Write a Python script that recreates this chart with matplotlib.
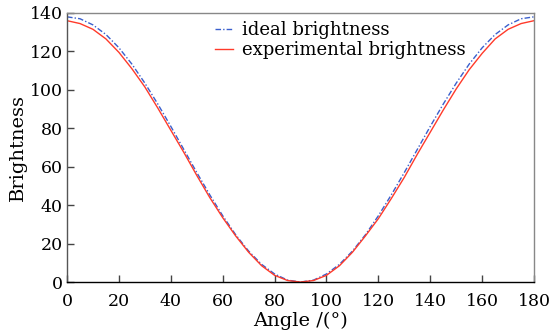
import numpy as np
from matplotlib import pyplot as plt

# angles in degrees
angle_ideal = np.arange(0, 181, 5)
ideal = [138.0, 137.0, 133.8, 128.8, 121.9, 113.4, 103.5, 92.6, 81.0, 69.0,
         57.0, 45.4, 34.5, 24.6, 16.1, 9.2, 4.2, 1.0, 0.0,
         1.0, 4.2, 9.2, 16.1, 24.6, 34.5, 45.4, 57.0, 69.0, 81.0,
         92.6, 103.5, 113.4, 121.9, 128.8, 133.8, 137.0, 138.0]

angle_exp = np.arange(0, 181, 5)
experimental = [136.0, 134.5, 131.5, 126.5, 119.5, 111.0, 101.5, 90.5, 79.0, 67.5,
                55.5, 44.0, 33.5, 24.0, 15.5, 8.5, 3.5, 0.8, 0.0,
                0.8, 3.5, 8.5, 15.5, 24.0, 33.0, 43.5, 54.5, 66.5, 78.0,
                89.5, 100.5, 110.5, 119.0, 126.5, 131.5, 134.5, 136.0]

plt.rcParams['font.family'] = 'DejaVu Serif'
plt.rcParams['font.size'] = 12.5

fig = plt.figure(figsize=(5.54, 3.33), dpi=100)
ax = fig.add_axes([0.121, 0.153, 0.843, 0.808])

ax.plot(angle_ideal, ideal, linestyle=(0, (4, 1.5, 1, 1.5)), color='#3a5fcd',
        linewidth=1.0, label='ideal brightness')
ax.plot(angle_exp, experimental, '-', color='#ff3a2a', linewidth=1.0,
        label='experimental brightness')

ax.set_xlim(0, 180)
ax.set_ylim(0, 140)
ax.set_xticks(np.arange(0, 181, 20))
ax.set_yticks(np.arange(0, 141, 20))
ax.tick_params(direction='in', length=5, width=1, color='#444444')
ax.tick_params(axis='x', pad=8)
ax.tick_params(axis='y', pad=3)

ax.spines['bottom'].set_color('black')
ax.spines['left'].set_color('#555555')
ax.spines['top'].set_color('#888888')
ax.spines['right'].set_color('#888888')
for s in ax.spines.values():
    s.set_linewidth(1.0)

ax.set_xlabel('Angle /(°)', fontsize=14, labelpad=1)
ax.set_ylabel('Brightness', fontsize=14, labelpad=2)

ax.legend(loc='upper center', bbox_to_anchor=(0.585, 1.03), frameon=False,
          handlelength=1.0, handletextpad=0.5, labelspacing=0.1,
          fontsize=13)

fig.savefig('out.png', dpi=100)
